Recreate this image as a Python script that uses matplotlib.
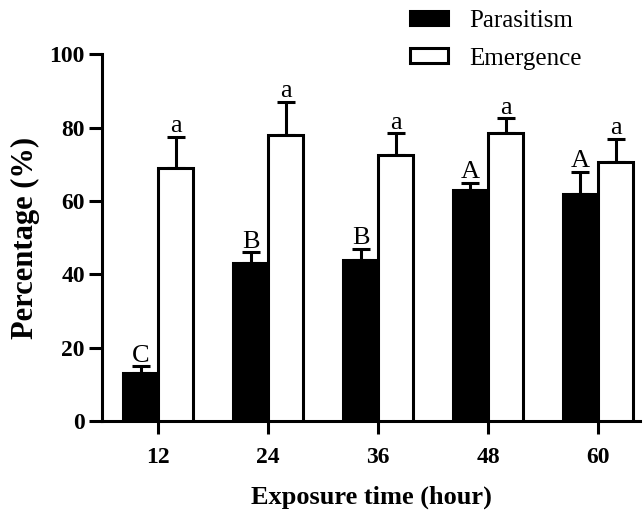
import matplotlib
matplotlib.use("Agg")
import matplotlib.pyplot as plt
import numpy as np

categories = ["12", "24", "36", "48", "60"]
parasitism = [13, 43, 44, 63, 62]
parasitism_err = [2, 3, 3, 2, 6]
emergence = [69, 78, 72.5, 78.5, 70.5]
emergence_err = [8.5, 9, 6, 4, 6.5]
par_letters = ["C", "B", "B", "A", "A"]
emg_letters = ["a", "a", "a", "a", "a"]

plt.rcParams['font.family'] = ['Liberation Serif', 'DejaVu Serif']

fig = plt.figure(figsize=(6.43, 5.11), dpi=100)
ax = fig.add_axes([0.159, 0.176, 0.836, 0.718])

x = np.arange(len(categories))
w = 0.32
lw = 2.2
ax.bar(x - w/2, parasitism, w, color='black', edgecolor='black', linewidth=lw,
       label='Parasitism', zorder=3)
ax.bar(x + w/2, emergence, w, color='white', edgecolor='black', linewidth=lw,
       label='Emergence', zorder=3)
ax.errorbar(x - w/2, parasitism, yerr=[np.zeros(5), parasitism_err], fmt='none',
            ecolor='black', elinewidth=lw, capsize=6.5, capthick=lw, zorder=2)
ax.errorbar(x + w/2, emergence, yerr=[np.zeros(5), emergence_err], fmt='none',
            ecolor='black', elinewidth=lw, capsize=6.5, capthick=lw, zorder=2)

for i in range(len(x)):
    ax.text(x[i] - w/2, parasitism[i] + parasitism_err[i] + 1.2, par_letters[i],
            ha='center', va='baseline', fontsize=19)
    ax.text(x[i] + w/2, emergence[i] + emergence_err[i] + 1.2, emg_letters[i],
            ha='center', va='baseline', fontsize=19)

ax.set_xlim(-0.51, 4.38)
ax.set_ylim(0, 100)
ax.set_yticks([0, 20, 40, 60, 80, 100])
ax.set_xticks(x)
ax.set_xticklabels(categories)
for lab in ax.get_xticklabels() + ax.get_yticklabels():
    lab.set_fontweight('bold')
    lab.set_fontsize(17)
ax.spines['top'].set_visible(False)
ax.spines['right'].set_visible(False)
ax.spines['left'].set_linewidth(lw)
ax.spines['bottom'].set_linewidth(lw)
ax.tick_params(width=lw, length=9.5, direction='out')
ax.tick_params(axis='x', pad=9)
ax.tick_params(axis='y', pad=3)

ax.set_ylabel('Percentage (%)', fontsize=22, fontweight='bold', labelpad=7)
ax.set_xlabel('Exposure time (hour)', fontsize=19, fontweight='bold', labelpad=13)

leg = fig.legend(loc='upper left', bbox_to_anchor=(410 / 643, 1 - 10 / 511),
                 frameon=False, fontsize=18, handlelength=1.5, handleheight=0.52,
                 handletextpad=0.88, labelspacing=0.62, borderpad=0,
                 borderaxespad=0)

fig.savefig('out.png', dpi=100)
